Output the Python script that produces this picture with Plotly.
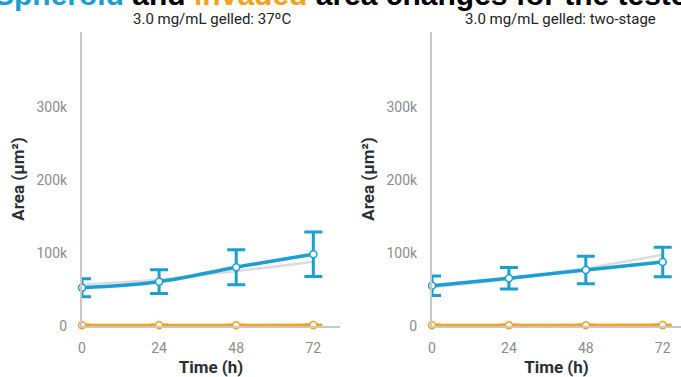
import plotly.graph_objects as go

hours = [0, 24, 48, 72]

left_spheroid = [52400, 60600, 80300, 98100]
left_spheroid_err = [12300, 16200, 24000, 30400]
left_trend = [56500, 63500, 75000, 88000]
left_invaded = [900, 1000, 1100, 1200]
left_invaded_err = [300, 300, 300, 300]

right_spheroid = [55100, 65300, 76600, 87600]
right_spheroid_err = [13400, 14800, 18700, 20100]
right_trend = [53000, 64000, 79000, 97500]
right_invaded = [900, 1000, 1100, 1200]
right_invaded_err = [300, 300, 300, 300]

subtitles = ["3.0 mg/mL gelled: 37ºC", "3.0 mg/mL gelled: two-stage"]
yticks = [0, 100000, 200000, 300000]

BLUE = "#1b9fd1"
ORANGE = "#f5a31a"
GRAY = "#dcdcdc"

fig = go.Figure()

panels = [
    ("x", "y", left_spheroid, left_spheroid_err, left_trend, left_invaded, left_invaded_err),
    ("x2", "y2", right_spheroid, right_spheroid_err, right_trend, right_invaded, right_invaded_err),
]

for xa, ya, sph, sph_err, trend, inv, inv_err in panels:
    fig.add_trace(go.Scatter(
        x=hours, y=trend, xaxis=xa, yaxis=ya, mode="lines",
        line=dict(color=GRAY, width=2.5, shape="spline"),
        hoverinfo="skip", showlegend=False, cliponaxis=False))
    fig.add_trace(go.Scatter(
        x=hours, y=inv, xaxis=xa, yaxis=ya, mode="lines+markers",
        line=dict(color=ORANGE, width=3),
        marker=dict(size=7, color="white", line=dict(color=ORANGE, width=1.5)),
        error_y=dict(type="data", array=inv_err, color=ORANGE, thickness=3, width=9),
        showlegend=False, cliponaxis=False))
    fig.add_trace(go.Scatter(
        x=hours, y=sph, xaxis=xa, yaxis=ya, mode="lines+markers",
        line=dict(color=BLUE, width=3.5, shape="spline"),
        marker=dict(size=7, color="white", line=dict(color=BLUE, width=1.5)),
        error_y=dict(type="data", array=sph_err, color=BLUE, thickness=3, width=9),
        showlegend=False, cliponaxis=False))

W, H = 681, 377
ML, MR, MT, MB = 82, 0, 32, 51
PW = W - ML - MR

def px(xpix):
    return (xpix - ML) / PW

axis_common = dict(
    showgrid=False, zeroline=False, showline=True, linecolor="#c8c8c8", linewidth=2,
    ticks="", tickfont=dict(family="Roboto", size=14, color="#8c8c8c"),
)
title_font = dict(family="Roboto", size=17, color="#2b2f33")

fig.update_layout(
    width=W, height=H,
    margin=dict(l=ML, r=MR, t=MT, b=MB),
    paper_bgcolor="white", plot_bgcolor="white",
    xaxis=dict(domain=[0, px(340)], range=[0, 80.3], tickvals=hours, ticklabelstandoff=8,
               title=dict(text="<b>Time (h)</b>", font=title_font, standoff=6),
               anchor="y", **axis_common),
    yaxis=dict(domain=[0, 1], range=[0, 402000], tickvals=yticks, tickformat="~s", ticklabelstandoff=10,
               title=dict(text="<b>Area (μm²)</b>", font=title_font, standoff=8),
               anchor="x", **axis_common),
    xaxis2=dict(domain=[px(432), 1], range=[0, 77.7], tickvals=hours, ticklabelstandoff=8,
                title=dict(text="<b>Time (h)</b>", font=title_font, standoff=6),
                anchor="y2", **axis_common),
    yaxis2=dict(domain=[0, 1], range=[0, 402000], tickvals=yticks, tickformat="~s", ticklabelstandoff=10,
                title=dict(text="<b>Area (μm²)</b>", font=title_font, standoff=8),
                anchor="x2", **axis_common),
)

title_text = ("<b><span style='color:%s'>Spheroid</span> and "
              "<span style='color:%s'>invaded</span> area changes for the tested conditions</b>") % (BLUE, ORANGE)

fig.add_annotation(
    text=title_text, xref="paper", yref="paper", x=px(-8), y=(H - MB - 13) / (H - MT - MB),
    xanchor="left", yanchor="bottom", showarrow=False,
    font=dict(family="Liberation Sans, Arial", size=30, color="#000000"))

for cx, label in zip([212, 560], subtitles):
    fig.add_annotation(
        text=label, xref="paper", yref="paper", x=px(cx), y=(H - MB - 19) / (H - MT - MB),
        xanchor="center", yanchor="middle", showarrow=False,
        font=dict(family="Roboto", size=15, color="#222222"))

fig.write_html("out.html")
